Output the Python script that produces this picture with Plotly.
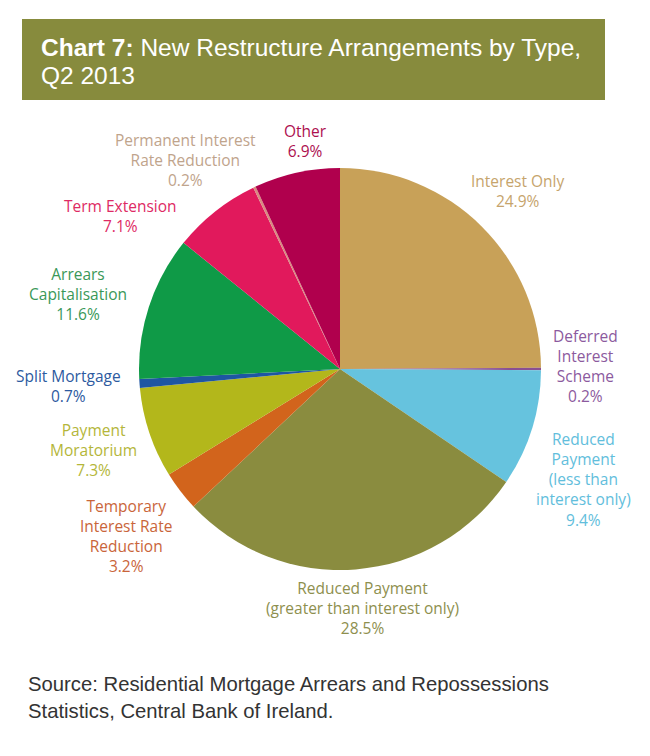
import plotly.graph_objects as go

# slices clockwise from 12 o'clock
labels = ["Interest Only", "Deferred Interest Scheme", "Reduced Payment (less than interest only)",
          "Reduced Payment (greater than interest only)", "Temporary Interest Rate Reduction",
          "Payment Moratorium", "Split Mortgage", "Arrears Capitalisation", "Term Extension",
          "Permanent Interest Rate Reduction", "Other"]
shares = [24.9, 0.2, 9.4, 28.5, 3.2, 7.3, 0.7, 11.6, 7.1, 0.2, 6.9]

# how each label is wrapped on the chart
label_text = ["Interest Only", "Deferred<br>Interest<br>Scheme", "Reduced<br>Payment<br>(less than<br>interest only)",
              "Reduced Payment<br>(greater than interest only)", "Temporary<br>Interest Rate<br>Reduction",
              "Payment<br>Moratorium", "Split Mortgage", "Arrears<br>Capitalisation", "Term Extension",
              "Permanent Interest<br>Rate Reduction", "Other"]

slice_colors = ["#C8A158", "#8A4F92", "#66C3DE", "#8A8C3F", "#D2641C", "#B3B71B",
                "#1E56A2", "#0F9A47", "#E1195C", "#D98A80", "#B0004D"]
text_colors = ["#C6A46C", "#8C5A9E", "#62BEDC", "#8E8F4E", "#C9653A", "#B4B63A",
               "#2D5AA0", "#3A9858", "#DE2A64", "#BFA48C", "#AD0F4F"]

# label centres in window pixels (x, y from top)
label_pos = [(518, 191), (585, 366), (583, 479), (362, 608), (126, 536), (93, 450),
             (68, 386), (78, 294), (120, 216), (185, 160), (305, 141)]

# page body has an 8px margin, so the figure is shrunk and everything shifted by it
OFF = 8
W, H = 650 - 2 * OFF, 756 - 2 * OFF


def px(x):
    return (x - OFF) / W


def py(y):
    return 1 - (y - OFF) / H


cx, cy, r = 340, 369, 201

fig = go.Figure()
fig.add_trace(go.Pie(
    labels=labels, values=shares, sort=False, direction="clockwise", rotation=0,
    marker=dict(colors=slice_colors, line=dict(width=0)),
    textinfo="none", hoverinfo="label+percent", showlegend=False,
    domain=dict(x=[px(cx - r), px(cx + r)], y=[py(cy + r), py(cy - r)]),
))

for txt, val, col, (x, y) in zip(label_text, shares, text_colors, label_pos):
    fig.add_annotation(
        x=px(x), y=py(y), xref="paper", yref="paper",
        text="%s<br>%.1f%%" % (txt, val), showarrow=False,
        font=dict(family="Open Sans", size=15.5, color=col),
        align="center", xanchor="center", yanchor="middle",
    )

# title banner
fig.add_shape(type="rect", xref="paper", yref="paper",
              x0=px(22), x1=px(605), y0=py(100), y1=py(19),
              fillcolor="#878B3D", line=dict(width=0), layer="below")
title_lines = ["<b>Chart 7:</b> New Restructure Arrangements by Type,", "Q2 2013"]
for i, t in enumerate(title_lines):
    fig.add_annotation(
        x=px(39), y=py(47 + 29 * i), xref="paper", yref="paper", showarrow=False,
        text=t, font=dict(family="Liberation Sans", size=24.5, color="white"),
        align="left", xanchor="left", yanchor="middle",
    )

source_lines = ["Source: Residential Mortgage Arrears and Repossessions",
                "Statistics, Central Bank of Ireland."]
for i, t in enumerate(source_lines):
    fig.add_annotation(
        x=px(26), y=py(684 + 27 * i), xref="paper", yref="paper", showarrow=False,
        text=t, font=dict(family="Liberation Sans", size=20.3, color="#333333"),
        align="left", xanchor="left", yanchor="middle",
    )

fig.update_layout(
    width=W, height=H, margin=dict(l=0, r=0, t=0, b=0),
    paper_bgcolor="white", plot_bgcolor="white",
)

fig.write_html("out.html")
